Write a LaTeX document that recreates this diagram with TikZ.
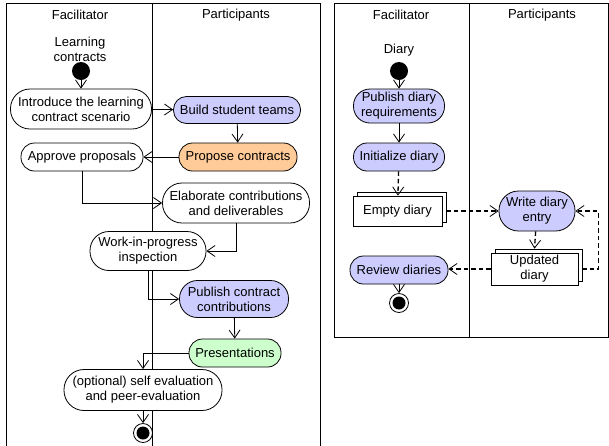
\documentclass[tikz,border=0pt]{standalone}
\usepackage{fontspec}
\setmainfont{Liberation Sans}
\usetikzlibrary{arrows.meta,shadows,calc}
\definecolor{lav}{HTML}{CCCCFF}
\definecolor{peach}{HTML}{FFCC99}
\definecolor{mint}{HTML}{CCFFCC}
\tikzset{
  act/.style n args={3}{draw,line width=0.8pt,align=center,inner sep=1pt,
    minimum width=#1,minimum height=#2,rounded corners=#3,
    font=\fontsize{13}{15}\selectfont},
  objbox/.style n args={2}{draw,line width=0.8pt,fill=white,align=center,inner sep=1pt,
    minimum width=#1,minimum height=#2,font=\fontsize{13}{15}\selectfont,
    copy shadow={shadow xshift=4pt,shadow yshift=4pt,draw=black,fill=white,line width=0.8pt}},
  initnode/.style={circle,fill=black,minimum size=18pt,inner sep=0pt},
  finnode/.style={circle,draw,line width=0.8pt,minimum size=19pt,inner sep=0pt,
    path picture={\fill (path picture bounding box.center) circle (6.5pt);}},
  arr/.style={line width=0.8pt,-{Straight Barb[length=8pt,width=11pt,line width=0.8pt]}},
  darr/.style={line width=1.3pt,dash pattern=on 4.5pt off 3pt,
    -{Straight Barb[length=8pt,width=11pt,line width=0.8pt]}},
  lbl/.style={font=\fontsize{13}{15}\selectfont,align=center,inner sep=0pt},
}
\begin{document}
\begin{tikzpicture}[x=1pt,y=-1pt]
\useasboundingbox (0,0) rectangle (609,445);
% lanes
\draw[line width=0.8pt] (6,446) -- (6,3) -- (320,3) -- (320,446);
\draw[line width=0.8pt] (152,3) -- (152,446);
\draw[line width=0.8pt] (334,3) rectangle (608.5,337);
\draw[line width=0.8pt] (469,3) -- (469,337);
\node[lbl] (h1) at (80,15) {Facilitator};
\node[lbl] (h2) at (236,15) {Participants};
\node[lbl] (h3) at (401,15) {Facilitator};
\node[lbl] (h4) at (542,15) {Participants};
% left diagram
\node[lbl] (lc) at (80,49) {Learning\\contracts};
\node[initnode] (i1) at (81,71) {};
\node[act={141pt}{40pt}{19.5pt},fill=white] (intro) at (81,109) {Introduce the learning\\contract scenario};
\node[act={127pt}{27pt}{13pt},fill=lav] (build) at (237,110) {Build student teams};
\node[act={118pt}{28pt}{13.5pt},fill=peach] (prop) at (238,157) {Propose contracts};
\node[act={122pt}{28pt}{13.5pt},fill=white] (appr) at (82,157) {Approve proposals};
\node[act={147pt}{40pt}{19.5pt},fill=white] (elab) at (236,203) {Elaborate contributions\\and deliverables};
\node[act={116pt}{39pt}{19pt},fill=white] (wip) at (148,251) {Work-in-progress\\inspection};
\node[act={109pt}{37pt}{18pt},fill=lav] (pub) at (234,299) {Publish contract\\contributions};
\node[act={92pt}{28pt}{13.5pt},fill=mint] (pres) at (235,353) {Presentations};
\node[act={158pt}{41pt}{20pt},fill=white] (opt) at (143,390) {(optional) self evaluation\\and peer-evaluation};
\node[finnode] (f1) at (143,433) {};
\draw[arr] (i1) -- (intro);
\draw[arr] (intro) -- (build);
\draw[arr] (build) -- (prop);
\draw[arr] (prop) -- (appr);
\draw[arr] (appr.south) |- (elab.west);
\draw[arr] (elab.south) |- (wip.east);
\draw[arr] (wip.south) |- (pub.west);
\draw[arr] (pub) -- (pres);
\draw[arr] (pres.west) -| (opt.north);
\draw[arr] (opt) -- (f1);
% right diagram
\node[lbl] (dl) at (399,50) {Diary};
\node[initnode] (i2) at (399,71) {};
\node[act={91pt}{34pt}{16.5pt},fill=lav] (pdr) at (399,106) {Publish diary\\requirements};
\node[act={91pt}{28pt}{13.5pt},fill=lav] (ini) at (399,157) {Initialize diary};
\node[objbox={89pt}{30pt}] (empty) at (397.5,211) {Empty diary};
\node[act={76pt}{40pt}{19.5pt},fill=lav] (write) at (537,211) {Write diary\\entry};
\node[objbox={87pt}{32pt}] (upd) at (534.5,269) {Updated\\diary};
\node[act={98pt}{28pt}{13.5pt},fill=lav] (rev) at (399,270) {Review diaries};
\node[finnode] (f2) at (399,303) {};
\draw[arr] (i2) -- (pdr);
\draw[arr] (pdr) -- (ini);
\draw[darr] (ini) -- (empty);
\draw[darr] ([xshift=4pt]empty.east) -- (write.west);
\draw[darr] (write) -- ([yshift=4pt]upd.north);
\draw[darr] (upd.west) -- (rev.east |- upd.west);
\draw[darr] ([xshift=4pt]upd.east) -- ++(16,0) |- (write.east);
\draw[arr] (rev) -- (f2);
\end{tikzpicture}
\end{document}
